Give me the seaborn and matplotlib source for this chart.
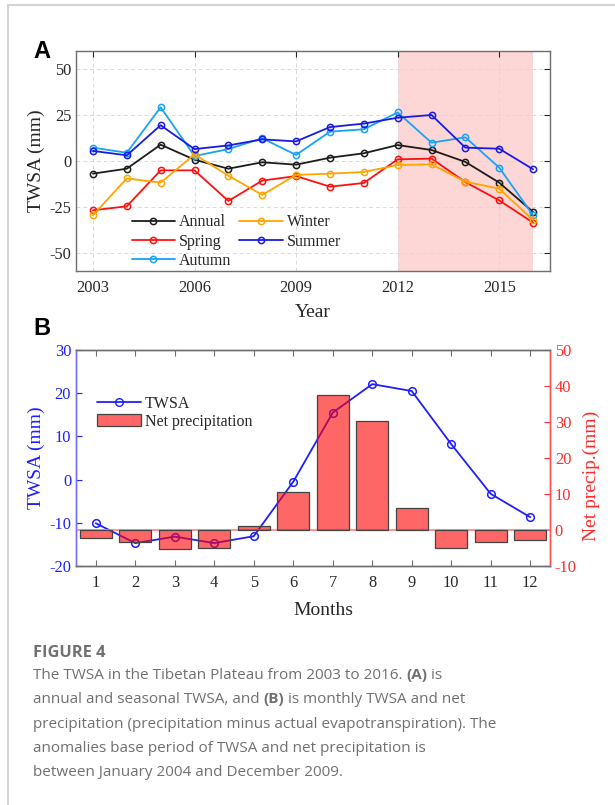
import numpy as np
import pandas as pd
import matplotlib
matplotlib.use("Agg")
import matplotlib.pyplot as plt
import seaborn as sns
from matplotlib.lines import Line2D
from matplotlib.patches import Patch

# ---------------- data ----------------
years = [2003, 2004, 2005, 2006, 2007, 2008, 2009, 2010, 2011, 2012, 2013, 2014, 2015, 2016]
annual = [-6.9, -4.2, 8.9, 0.7, -4.2, -0.7, -2.0, 1.8, 4.2, 8.7, 6.0, -0.5, -11.8, -27.8]
winter = [-29.6, -9.5, -11.8, 3.6, -8.0, -18.5, -7.6, -6.9, -6.0, -2.2, -1.8, -11.3, -15.1, -32.2]
spring = [-26.9, -24.7, -5.1, -5.1, -21.8, -10.7, -8.2, -14.0, -12.0, 0.9, 1.3, -11.5, -21.5, -33.6]
summer = [5.5, 3.1, 19.5, 6.5, 8.5, 11.8, 10.7, 18.5, 20.4, 23.6, 25.1, 7.3, 6.7, -4.5]
autumn = [7.3, 4.5, 29.3, 2.7, 6.5, 12.4, 3.3, 16.0, 17.3, 26.5, 10.0, 12.9, -3.6, -29.6]

months = [1, 2, 3, 4, 5, 6, 7, 8, 9, 10, 11, 12]
twsa_month = [-10.1, -14.7, -13.2, -14.7, -13.1, -0.5, 15.5, 22.1, 20.5, 8.2, -3.3, -8.7]
net_precip = [-2.2, -3.4, -5.3, -5.1, 1.0, 10.6, 37.6, 30.2, 6.2, -5.1, -3.3, -2.7]

year_ticks = [2003, 2006, 2009, 2012, 2015]
a_yticks = [-50, -25, 0, 25, 50]
b_left_ticks = [-20, -10, 0, 10, 20, 30]
b_right_ticks = [-10, 0, 10, 20, 30, 40, 50]

# ---------------- style ----------------
sns.set_theme(style="white")
serif = ["Liberation Serif", "DejaVu Serif"]
plt.rcParams["font.family"] = serif
plt.rcParams["axes.unicode_minus"] = False
plt.rcParams["xtick.direction"] = "in"
plt.rcParams["ytick.direction"] = "in"

W, H = 615, 805
fig = plt.figure(figsize=(W / 100, H / 100), dpi=100)

def px_axes(left, top, right, bottom):
    return fig.add_axes([left / W, 1 - bottom / H, (right - left) / W, (bottom - top) / H])

# card border
fig.add_artist(Line2D([7.5 / W, 7.5 / W], [0, 1 - 5 / H], transform=fig.transFigure, color="#d4d4d4", lw=1.5))
fig.add_artist(Line2D([7.5 / W, 1], [1 - 5 / H, 1 - 5 / H], transform=fig.transFigure, color="#d4d4d4", lw=1.5))

tick_col = "#262626"
spine_col = "#6e6e6e"
fs_tick = 11.8
fs_lab = 14
fs_leg = 11.5

# ---------------- panel A ----------------
axA = px_axes(76, 51, 550, 271)
axA.axvspan(2012, 2016, color="#fdd6d6", zorder=0, lw=0)
series = [("Annual", annual, "#1c1c1c"),
          ("Spring", spring, "#ff1010"),
          ("Autumn", autumn, "#19a3f5"),
          ("Winter", winter, "#ffa500"),
          ("Summer", summer, "#1a1ae6")]
for name, vals, col in series:
    sns.lineplot(x=years, y=vals, ax=axA, color=col, lw=1.3, marker="o",
                 markersize=4.5, markerfacecolor="none", markeredgecolor=col,
                 markeredgewidth=1.1, label=name, zorder=3)
axA.set_xlim(2002.5, 2016.5)
axA.set_ylim(-60, 60)
axA.set_xticks(year_ticks)
axA.set_yticks(a_yticks)
axA.grid(True, ls=(0, (4, 3)), color="#d9d9d9", lw=0.7, zorder=1)
axA.set_axisbelow(True)
axA.tick_params(axis="both", labelsize=fs_tick, colors=tick_col, length=4, width=0.8,
                top=True, right=True, labelcolor=tick_col)
axA.tick_params(axis="x", pad=6.5)
for sp in axA.spines.values():
    sp.set_visible(True)
    sp.set_color(spine_col)
    sp.set_linewidth(1.0)
axA.set_xlabel("Year", fontsize=fs_lab, color=tick_col, labelpad=5.5)
axA.set_ylabel("TWSA (mm)", fontsize=fs_lab, color=tick_col, labelpad=3)
legA = axA.legend(loc="upper left", bbox_to_anchor=(0.1175, 0.257), ncol=2, frameon=False,
                  fontsize=fs_leg, handlelength=2.7, handletextpad=0.25, columnspacing=0.52,
                  labelspacing=0.2, borderaxespad=0, borderpad=0)
fig.text(33 / W, 1 - 58 / H, "A", fontsize=17, fontweight="bold",
         family=["Liberation Sans", "DejaVu Sans"], color="black")

# ---------------- panel B ----------------
axB = px_axes(76, 350, 550, 566)
blue = "#1f1fff"
red = "#ff2a2a"
sns.lineplot(x=months, y=twsa_month, ax=axB, color=blue, lw=1.3, marker="o", markersize=5.5,
             markerfacecolor="none", markeredgecolor=blue, markeredgewidth=1.1, zorder=3,
             legend=False)
axB.set_xlim(0.5, 12.5)
axB.set_ylim(-20, 30)
axB.set_xticks(months)
axB.set_yticks(b_left_ticks)

axB2 = axB.twinx()
axB2.axhline(0, color="#ff8080", lw=1.2, zorder=1)
sns.barplot(x=months, y=net_precip, ax=axB2, native_scale=True, width=0.8,
            color=(1, 0, 0), saturation=1, edgecolor="#444444", linewidth=0.9, zorder=2)
for p in axB2.patches:
    p.set_facecolor((1, 0, 0, 0.6))
axB2.set_xlim(0.5, 12.5)
axB2.set_ylim(-10, 50)
axB2.set_yticks(b_right_ticks)

axB.tick_params(axis="x", labelsize=fs_tick, colors=spine_col, labelcolor=tick_col,
                length=4, width=0.8, top=True, bottom=True, pad=6.5)
axB.tick_params(axis="y", labelsize=fs_tick, colors=blue, labelcolor=blue, length=4, width=0.8,
                left=True, right=False)
axB2.tick_params(axis="y", labelsize=fs_tick, colors=red, labelcolor=red, length=4, width=0.8,
                 right=True, left=False)
for ax in (axB, axB2):
    for sp in ax.spines.values():
        sp.set_visible(True)
        sp.set_linewidth(1.0)
    ax.spines["top"].set_color(spine_col)
    ax.spines["bottom"].set_color(spine_col)
    ax.spines["left"].set_color("#7070ff")
    ax.spines["right"].set_color("#ff5050")
axB.set_xlabel("Months", fontsize=fs_lab, color=tick_col, labelpad=8)
axB.xaxis.label.set_x(0.521)
axB.set_ylabel("TWSA (mm)", fontsize=fs_lab, color=blue, labelpad=3)
axB2.set_ylabel("Net precip.(mm)", fontsize=fs_lab, color=red, labelpad=4)
axB2.yaxis.label.set_y(0.417)

hB = [Line2D([], [], color=blue, lw=1.3, marker="o", markersize=5.5, markerfacecolor="none",
             markeredgecolor=blue),
      Patch(facecolor=(1, 0, 0, 0.6), edgecolor="#444444", linewidth=0.9)]
axB2.legend(hB, ["TWSA", "Net precipitation"], loc="upper left", bbox_to_anchor=(0.0443, 0.786),
            frameon=False, fontsize=fs_leg, handlelength=2.75, handleheight=0.8,
            handletextpad=0.25, labelspacing=0.1, borderaxespad=0, borderpad=0)
fig.text(33 / W, 1 - 335 / H, "B", fontsize=17, fontweight="bold",
         family=["Liberation Sans", "DejaVu Sans"], color="black")

# ---------------- caption ----------------
cap_font = ["Open Sans", "DejaVu Sans"]
cap_col = "#707070"
cap_fs = 11.0
fig.text(33 / W, 1 - 657 / H, "FIGURE 4", fontsize=11.8, fontweight="bold", family=cap_font,
         color=cap_col, va="baseline")

lines = [
    [("The TWSA in the Tibetan Plateau from 2003 to 2016. ", "normal"), ("(A)", "bold"), (" is", "normal")],
    [("annual and seasonal TWSA, and ", "normal"), ("(B)", "bold"), (" is monthly TWSA and net", "normal")],
    [("precipitation (precipitation minus actual evapotranspiration). The", "normal")],
    [("anomalies base period of TWSA and net precipitation is", "normal")],
    [("between January 2004 and December 2009.", "normal")],
]
baselines = [679, 703, 728, 752, 776]
fig.canvas.draw()
renderer = fig.canvas.get_renderer()
for segs, yb in zip(lines, baselines):
    x = 33.0
    for txt, wt in segs:
        t = fig.text(x / W, 1 - yb / H, txt, fontsize=cap_fs, fontweight=wt, family=cap_font,
                     color=cap_col, va="baseline", ha="left")
        bb = t.get_window_extent(renderer=renderer)
        x += bb.width

fig.savefig("out.png", dpi=100)
